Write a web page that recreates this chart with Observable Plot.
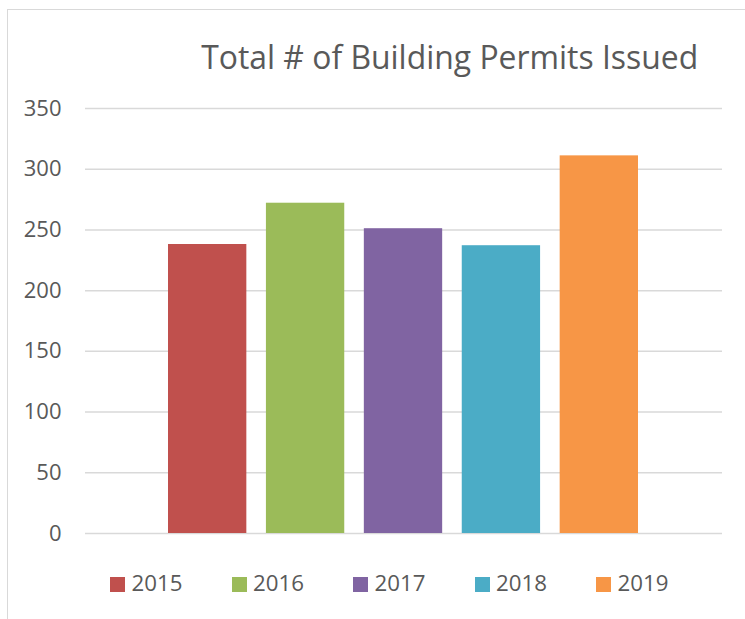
<!DOCTYPE html>
<html>
<head>
<meta charset="utf-8">
<script src="https://cdn.jsdelivr.net/npm/d3@7"></script>
<script src="https://cdn.jsdelivr.net/npm/@observablehq/plot@0.6"></script>
<style>
  html, body { margin: 0; padding: 0; background: #fff; }
  #wrap { position: relative; width: 745px; height: 619px; overflow: hidden; font-family: "Open Sans", sans-serif; color: #595959; }
  #border { position: absolute; left: 7px; top: 9px; width: 800px; height: 700px; border-left: 1.5px solid #d9d9d9; border-top: 1.5px solid #d9d9d9; pointer-events: none; }
  #title { position: relative; height: 90px; }
  #title span { position: absolute; left: 449.7px; top: 41px; transform: translateX(-50%); font-size: 31.9px; line-height: 1; white-space: nowrap; }
  #chart { height: 470px; }
  #chart svg { display: block; }
  #legend { position: relative; height: 59px; }
  #legend .items { position: absolute; left: 110px; top: 12px; display: flex; gap: 49px; }
  #legend .item { display: flex; align-items: flex-start; }
  #legend .sw { width: 15px; height: 15px; margin-top: 5px; margin-right: 6.5px; }
  #legend .lb { font-size: 22.3px; line-height: 1; }
</style>
</head>
<body>
<div id="wrap">
  <div id="border"></div>
  <div id="title"><span></span></div>
  <div id="chart"></div>
  <div id="legend"><div class="items"></div></div>
</div>
<script>
const titleText = "Total # of Building Permits Issued";
const years = ["2015", "2016", "2017", "2018", "2019"];
const permits = [238, 272, 251, 237, 311];
const colors = ["#C0504D", "#9BBB59", "#8064A2", "#4BACC6", "#F79646"];
const yTicks = [0, 50, 100, 150, 200, 250, 300, 350];

const data = years.map((year, i) => ({year, value: permits[i]}));

document.querySelector("#title span").textContent = titleText;

const chart = Plot.plot({
  width: 745,
  height: 470,
  marginTop: 18,
  marginBottom: 27,
  marginLeft: 85,
  marginRight: 23,
  style: {fontFamily: "Open Sans, sans-serif", fontSize: "22px", color: "#595959", background: "transparent"},
  x: {type: "band", domain: years, insetLeft: 83, insetRight: 84, paddingInner: 0.2, paddingOuter: 0, round: false, axis: null},
  y: {domain: [0, 350], axis: null},
  color: {domain: years, range: colors},
  marks: [
    Plot.ruleY(yTicks, {stroke: "#d9d9d9", strokeWidth: 1.5}),
    Plot.barY(data, {x: "year", y: "value", fill: "year"}),
    Plot.axisY(yTicks, {tickSize: 0, tickPadding: 24, label: null, fill: "#595959"})
  ]
});
document.getElementById("chart").appendChild(chart);

const items = document.querySelector("#legend .items");
years.forEach((y, i) => {
  const it = document.createElement("div");
  it.className = "item";
  const sw = document.createElement("div");
  sw.className = "sw";
  sw.style.background = colors[i];
  const lb = document.createElement("span");
  lb.className = "lb";
  lb.textContent = y;
  it.appendChild(sw);
  it.appendChild(lb);
  items.appendChild(it);
});
</script>
</body>
</html>
